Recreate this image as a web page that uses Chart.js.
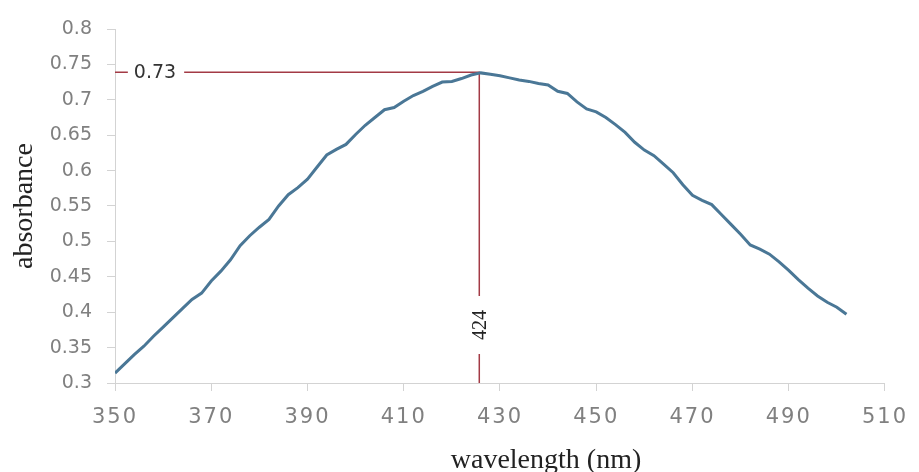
<!DOCTYPE html>
<html>
<head>
<meta charset="utf-8">
<script src="https://cdn.jsdelivr.net/npm/chart.js@4.4.1/dist/chart.umd.min.js"></script>
<style>
  html, body { margin: 0; padding: 0; background: #ffffff; }
  #wrap { width: 919px; height: 472px; }
</style>
</head>
<body>
<div id="wrap"><canvas id="myChart" width="919" height="472"></canvas></div>
<script>
// wavelength (nm), every 2 nm
var wavelengths = [350, 352, 354, 356, 358, 360, 362, 364, 366, 368,
                   370, 372, 374, 376, 378, 380, 382, 384, 386, 388,
                   390, 392, 394, 396, 398, 400, 402, 404, 406, 408,
                   410, 412, 414, 416, 418, 420, 422, 424, 426, 428,
                   430, 432, 434, 436, 438, 440, 442, 444, 446, 448,
                   450, 452, 454, 456, 458, 460, 462, 464, 466, 468,
                   470, 472, 474, 476, 478, 480, 482, 484, 486, 488,
                   490, 492, 494, 496, 498, 500, 502];
var absorbance = [0.314, 0.327, 0.340, 0.352, 0.366, 0.379, 0.392, 0.405, 0.418, 0.427,
                  0.444, 0.458, 0.474, 0.494, 0.508, 0.520, 0.531, 0.550, 0.566, 0.576,
                  0.588, 0.605, 0.622, 0.630, 0.637, 0.651, 0.664, 0.675, 0.686, 0.689,
                  0.698, 0.706, 0.712, 0.719, 0.725, 0.726, 0.730, 0.735, 0.738, 0.736,
                  0.734, 0.731, 0.728, 0.726, 0.723, 0.721, 0.712, 0.709, 0.697, 0.687,
                  0.683, 0.675, 0.665, 0.654, 0.640, 0.629, 0.621, 0.609, 0.597, 0.580,
                  0.565, 0.558, 0.552, 0.538, 0.524, 0.510, 0.495, 0.489, 0.482, 0.471,
                  0.459, 0.446, 0.434, 0.423, 0.414, 0.407, 0.397];

// peak marker
var peakWavelength = 425.7;
var peakAbsorbance = 0.739;
var peakLabels = ['0.73', '424'];

var xMin = 350, xMax = 510, xStep = 20;
var yMin = 0.3, yMax = 0.8, yStep = 0.05;

var curve = wavelengths.map(function (w, i) { return { x: w, y: absorbance[i] }; });
var marker = [
  { x: xMin, y: peakAbsorbance },
  { x: peakWavelength, y: peakAbsorbance },
  { x: peakWavelength, y: yMin }
];

var axisGray = '#d3d3d3';
var tickGray = '#808080';

// white boxes + text for the two peak labels, and the x title
var extras = {
  id: 'extras',
  beforeDraw: function (chart) {
    var c = chart.ctx;
    c.save();
    c.fillStyle = '#ffffff';
    c.fillRect(0, 0, chart.width, chart.height);
    c.restore();
    // spaced digits on the x axis only
    var sx = chart.scales.x;
    if (!sx._spaced) {
      var orig = sx.drawLabels;
      sx.drawLabels = function (area) {
        chart.ctx.letterSpacing = '2px';
        orig.call(sx, area);
        chart.ctx.letterSpacing = '0px';
      };
      sx._spaced = true;
    }
  },
  afterDatasetsDraw: function (chart) {
    var c = chart.ctx;
    var sx = chart.scales.x, sy = chart.scales.y;
    var hy = sy.getPixelForValue(peakAbsorbance);
    var vx = sx.getPixelForValue(peakWavelength);

    c.save();
    // "0.73" on the horizontal line
    c.font = '19px "DejaVu Sans"';
    var tx = sx.getPixelForValue(xMin) + 40;
    var w1 = c.measureText(peakLabels[0]).width;
    c.fillStyle = '#ffffff';
    c.fillRect(tx - w1 / 2 - 6, hy - 10, w1 + 14, 20);
    c.fillStyle = '#333333';
    c.textAlign = 'center';
    c.textBaseline = 'middle';
    c.fillText(peakLabels[0], tx, hy + 1);

    // "424" on the vertical line, rotated
    var ty = sy.getPixelForValue(yMin) - 58;
    c.font = '20px "Liberation Serif"';
    c.fillStyle = '#ffffff';
    c.fillRect(vx - 9, ty - 29, 18, 58);
    c.translate(vx, ty);
    c.rotate(-Math.PI / 2);
    c.fillStyle = '#222222';
    c.fillText(peakLabels[1], 0, 1);
    c.restore();
  },
  afterDraw: function (chart) {
    var c = chart.ctx;
    c.save();
    c.font = '28px "Liberation Serif"';
    c.fillStyle = '#222222';
    c.textAlign = 'center';
    c.textBaseline = 'alphabetic';
    c.fillText('wavelength (nm)', 546, 468);
    c.restore();
  }
};

var ctx = document.getElementById('myChart').getContext('2d');
var myChart = new Chart(ctx, {
  type: 'line',
  data: {
    datasets: [{
      label: 'absorbance',
      data: curve,
      borderColor: '#4a7796',
      borderWidth: 3,
      pointRadius: 0,
      tension: 0
    }, {
      label: 'peak',
      data: marker,
      borderColor: '#a33a45',
      borderWidth: 1.5,
      pointRadius: 0,
      tension: 0
    }]
  },
  options: {
    responsive: false,
    animation: false,
    events: [],
    layout: { padding: { top: 29, right: 26, left: 0, bottom: 0 } },
    plugins: {
      legend: { display: false },
      tooltip: { enabled: false }
    },
    scales: {
      x: {
        type: 'linear',
        min: xMin,
        max: xMax,
        afterFit: function (s) { s.height = 89; },
        ticks: {
          stepSize: xStep,
          color: tickGray,
          padding: 14,
          font: { family: 'DejaVu Sans', size: 21 }
        },
        grid: { drawOnChartArea: false, drawTicks: true, tickLength: 8, color: axisGray },
        border: { color: axisGray }
      },
      y: {
        min: yMin,
        max: yMax,
        afterFit: function (s) { s.width = 115; },
        ticks: {
          stepSize: yStep,
          color: tickGray,
          padding: 15,
          font: { family: 'DejaVu Sans', size: 19 },
          callback: function (v) { return String(parseFloat(v.toFixed(2))); }
        },
        title: {
          display: true,
          text: 'absorbance',
          color: '#222222',
          padding: { top: 8, bottom: 0 },
          font: { family: 'Liberation Serif', size: 28 }
        },
        grid: { drawOnChartArea: false, drawTicks: true, tickLength: 8, color: axisGray },
        border: { color: axisGray }
      }
    }
  },
  plugins: [extras]
});
</script>
</body>
</html>
